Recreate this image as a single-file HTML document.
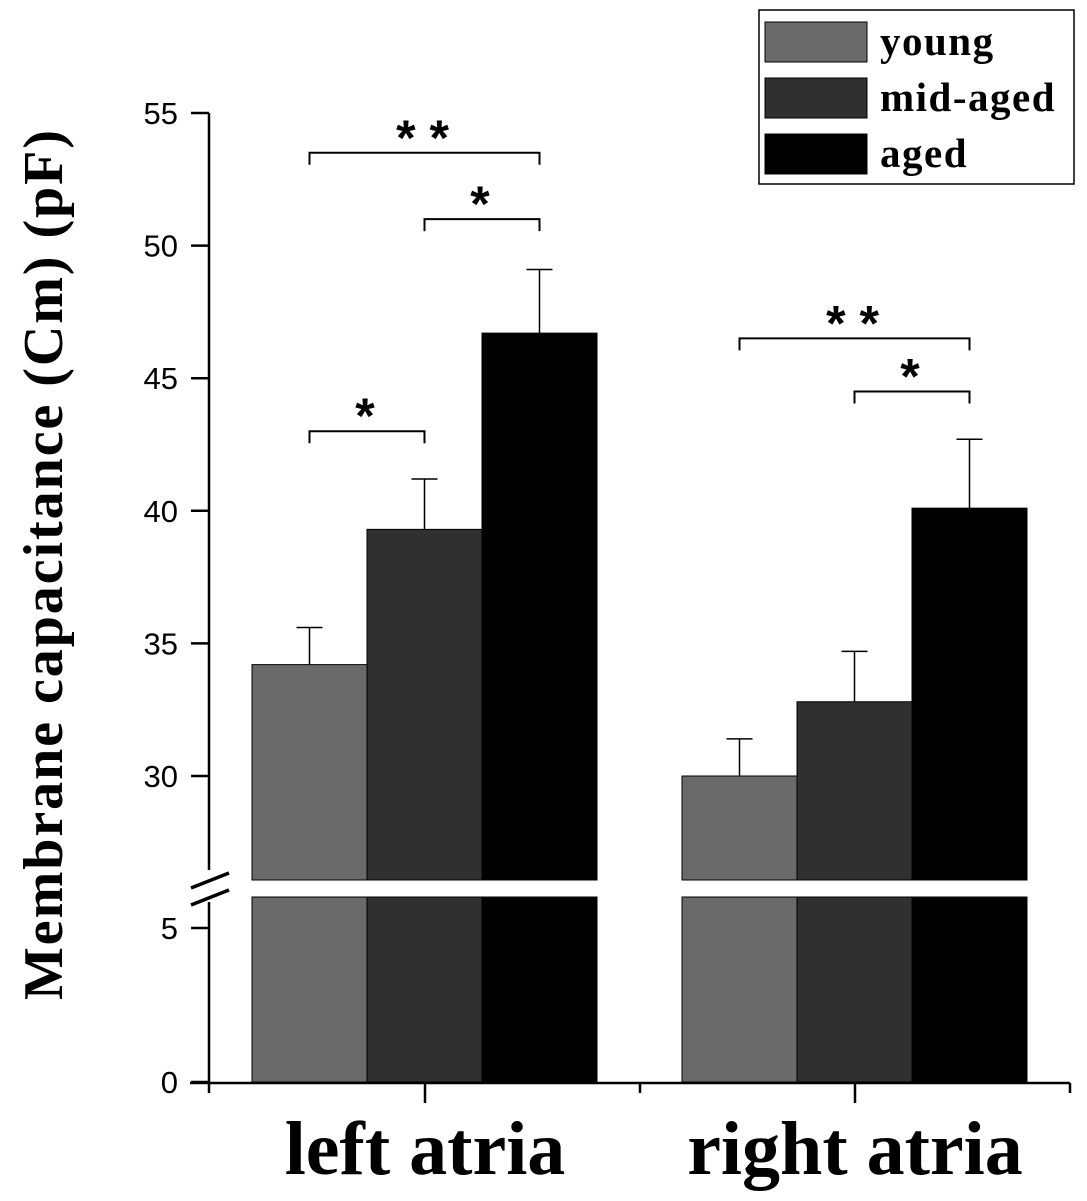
<!DOCTYPE html>
<html><head><meta charset="utf-8"><style>
body{margin:0;background:#fff;}
svg{display:block;font-family:"Liberation Sans",sans-serif;}
</style></head><body>
<svg id="chart" width="1087" height="1201" viewBox="0 0 1087 1201"></svg>
<script>
const groups = ["left atria","right atria"];
const series = ["young","mid-aged","aged"];
const means = [[34.2,39.3,46.7],[30.0,32.8,40.1]];
const errs = [[1.4,1.9,2.4],[1.4,1.9,2.6]];
const upperTicks = [30,35,40,45,50,55];
const lowerTicks = [0,5];
const colors = ["#6a6a6a","#303030","#000000"];
const sigs = [
  {g:0,a:0,b:1,y:43,label:"* "},
  {g:0,a:1,b:2,y:51,label:"*"},
  {g:0,a:0,b:2,y:53.5,label:"* *"},
  {g:1,a:1,b:2,y:44.5,label:"*"},
  {g:1,a:0,b:2,y:46.5,label:"* *"}
];
const NS="http://www.w3.org/2000/svg";
const svg=document.getElementById('chart');
function mk(t,a,p){const e=document.createElementNS(NS,t);for(const k in a)e.setAttribute(k,a[k]);(p||svg).appendChild(e);return e;}
const yU=v=>113+(55-v)*26.52;
const yL=v=>1082-v*30.8;
const breakTop=880, breakBot=897;
const groupStart=[252,682], barW=115;
const xBar=(g,s)=>groupStart[g]+s*barW;
groups.forEach((gn,g)=>{
  series.forEach((sn,s)=>{
    const x=xBar(g,s), v=means[g][s];
    const top=yU(v);
    const r1=mk('rect',{x:x,y:top,width:barW,height:breakTop-top,fill:colors[s],stroke:'#000','stroke-width':1});
    
    
    const r2=mk('rect',{x:x,y:breakBot,width:barW,height:yL(0)-breakBot,fill:colors[s],stroke:'#000','stroke-width':1});
    
    
    const cx=x+barW/2, ye=yU(v+errs[g][s]);
    const e=mk('path',{d:`M${cx},${top} V${ye} M${cx-13},${ye} H${cx+13}`,stroke:'#000','stroke-width':1.5,fill:'none'});
    
    
  });
});
const ax=mk('path',{d:`M209,113 V870 M209,902 V1083 M190,1083 H1070`,stroke:'#000','stroke-width':2.5,fill:'none'});


const br=mk('path',{d:`M191,888 L229,873 M191,905 L229,890`,stroke:'#000','stroke-width':3.5});


upperTicks.forEach(t=>{
  const yy=yU(t);
  mk('line',{x1:191,x2:209,y1:yy,y2:yy,stroke:'#000','stroke-width':2.5});
  const tx=mk('text',{x:178,y:yy+11,'text-anchor':'end','font-size':31});tx.textContent=t;
  
  
});
lowerTicks.forEach(t=>{
  const yy=yL(t);
  mk('line',{x1:191,x2:209,y1:yy,y2:yy,stroke:'#000','stroke-width':2.5});
  const tx=mk('text',{x:178,y:yy+11,'text-anchor':'end','font-size':31});tx.textContent=t;
  
  
});
[209,640,1070].forEach(x=>mk('line',{x1:x,x2:x,y1:1083,y2:1093,stroke:'#000','stroke-width':2.5}));
const catX=[425,855];
groups.forEach((gn,g)=>{
  const cx=catX[g];
  mk('line',{x1:cx,x2:cx,y1:1083,y2:1103,stroke:'#000','stroke-width':2.5});
  const tx=mk('text',{x:cx,y:1174,'text-anchor':'middle','font-size':76,'font-weight':'bold','font-family':'Liberation Serif, serif'});
  tx.textContent=gn;
  
  
});
const yt=mk('text',{x:0,y:0,transform:'translate(62,565) rotate(-90)','text-anchor':'middle','font-size':56,'font-weight':'bold','font-family':'Liberation Serif, serif',textLength:870,lengthAdjust:'spacing'});
yt.textContent='Membrane  capacitance (Cm) (pF)';


sigs.forEach(s=>{
  const x1=xBar(s.g,s.a)+barW/2, x2=xBar(s.g,s.b)+barW/2, yy=yU(s.y);
  const p=mk('path',{d:`M${x1},${yy+12} V${yy} H${x2} V${yy+12}`,stroke:'#000','stroke-width':2,fill:'none'});
  
  
  const t=mk('text',{x:(x1+x2)/2-2,y:yy+2,'text-anchor':'middle','font-size':50,'font-weight':'bold'});
  t.textContent=s.label.trim();
  
  
});
const lg=mk('g',{});


mk('rect',{x:759,y:10,width:315,height:174,fill:'#fff',stroke:'#000','stroke-width':1.5},lg);
series.forEach((sn,i)=>{
  const yy=22+i*56;
  mk('rect',{x:765,y:yy,width:102,height:40,fill:colors[i],stroke:'#000','stroke-width':1},lg);
  const t=mk('text',{x:880,y:yy+33,'font-size':41,'font-weight':'bold','font-family':'Liberation Serif, serif','letter-spacing':1.5},lg);
  t.textContent=sn;
  
  
});
</script>
</body></html>
